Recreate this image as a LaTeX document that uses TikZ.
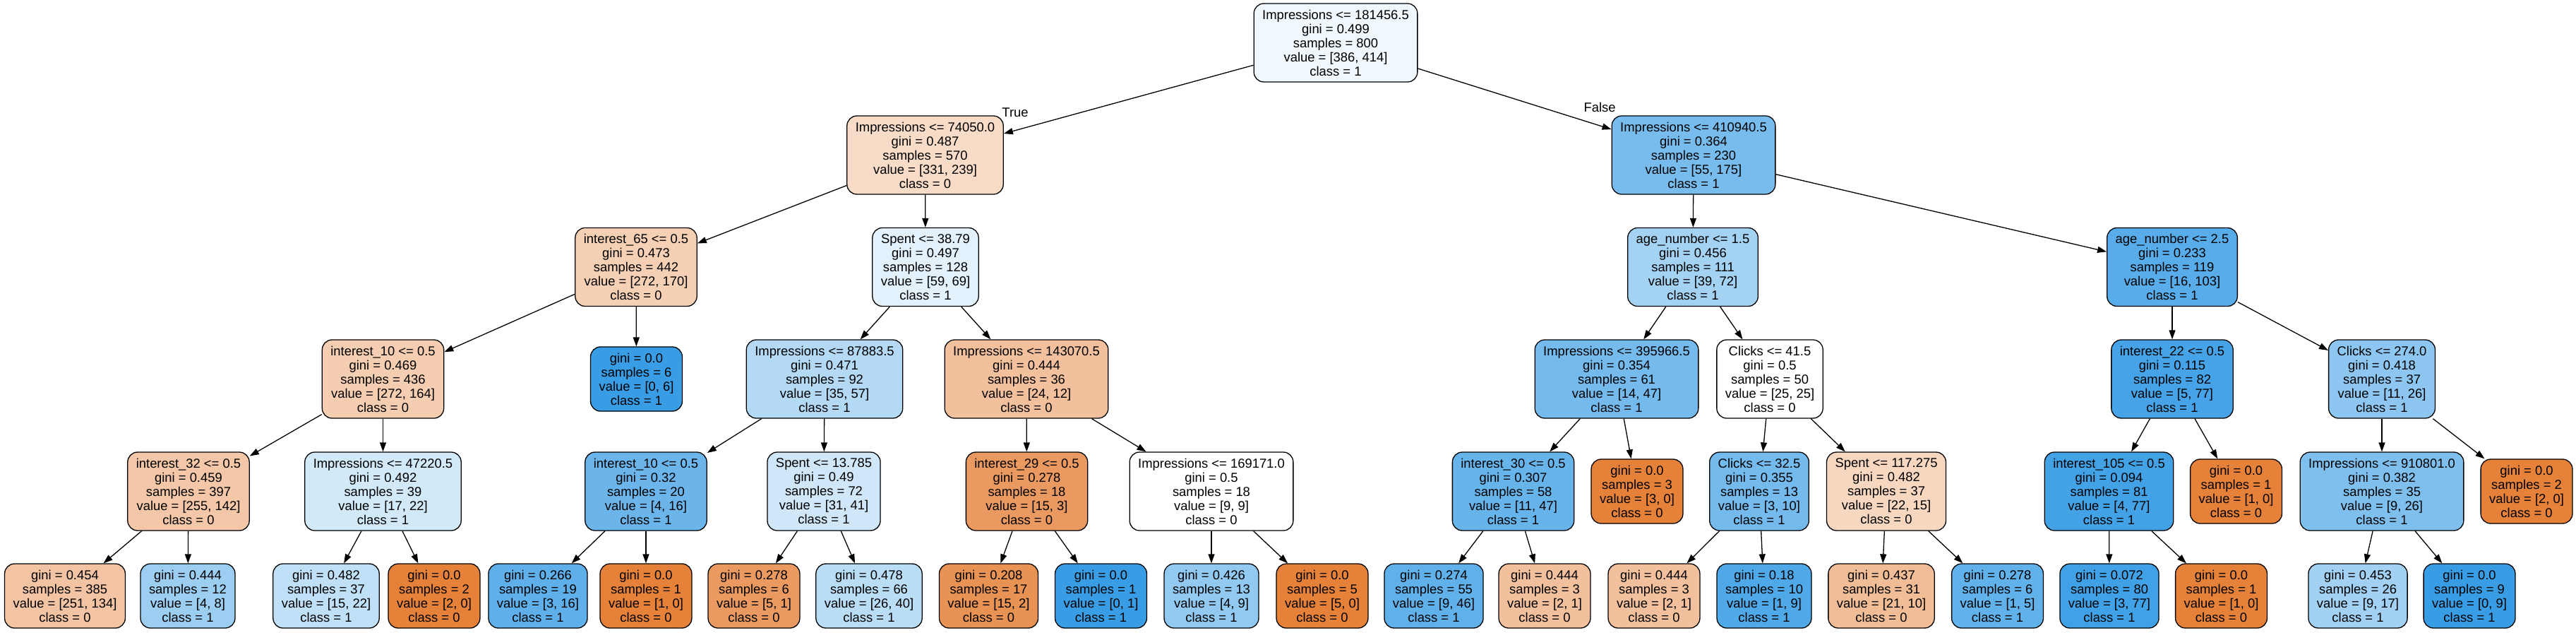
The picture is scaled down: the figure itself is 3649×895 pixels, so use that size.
\documentclass[tikz,border=0pt]{standalone}
\usepackage{fontspec}
\setmainfont{Liberation Sans}
\usetikzlibrary{arrows.meta}
\definecolor{czero}{RGB}{229,129,57}
\definecolor{cone}{RGB}{57,157,229}
\tikzset{
 tn/.style={draw=black, line width=0.65pt, rounded corners=7pt, align=center,
   font=\fontsize{9.2}{10}\selectfont, inner xsep=6pt, inner ysep=0pt},
 nf/.style={tn, minimum height=55.5pt},
 nl/.style={tn, minimum height=45.5pt},
 edge/.style={-{Triangle[length=6.5pt,width=4.5pt]}, line width=0.65pt},
 lbl/.style={font=\fontsize{9.2}{10}\selectfont, inner sep=0pt}
}
\begin{document}
\begin{tikzpicture}[x=0.5pt,y=-0.5pt]
\useasboundingbox[fill=white] (0,0) rectangle (3649,895);
% rank 0
\node[nf, fill=cone!7!white] (R) at (1892,60.5) {Impressions <= 181456.5\\gini = 0.499\\samples = 800\\value = [386, 414]\\class = 1};
% rank 1
\node[nf, fill=czero!28!white] (A) at (1310.5,219.5) {Impressions <= 74050.0\\gini = 0.487\\samples = 570\\value = [331, 239]\\class = 0};
\node[nf, fill=cone!68.6!white] (B) at (2399,219.5) {Impressions <= 410940.5\\gini = 0.364\\samples = 230\\value = [55, 175]\\class = 1};
% rank 2
\node[nf, fill=czero!37.5!white] (A1) at (901,378) {interest\_65 <= 0.5\\gini = 0.473\\samples = 442\\value = [272, 170]\\class = 0};
\node[nf, fill=cone!14.5!white] (A2) at (1311,378) {Spent <= 38.79\\gini = 0.497\\samples = 128\\value = [59, 69]\\class = 1};
\node[nf, fill=cone!45.8!white] (B1) at (2398,378) {age\_number <= 1.5\\gini = 0.456\\samples = 111\\value = [39, 72]\\class = 1};
\node[nf, fill=cone!84.5!white] (B2) at (3077,378) {age\_number <= 2.5\\gini = 0.233\\samples = 119\\value = [16, 103]\\class = 1};
% rank 3
\node[nf, fill=czero!39.7!white] (A11) at (542.5,536.5) {interest\_10 <= 0.5\\gini = 0.469\\samples = 436\\value = [272, 164]\\class = 0};
\node[nl, fill=cone] (A12) at (901.5,536.5) {gini = 0.0\\samples = 6\\value = [0, 6]\\class = 1};
\node[nf, fill=cone!38.6!white] (A21) at (1168,536.5) {Impressions <= 87883.5\\gini = 0.471\\samples = 92\\value = [35, 57]\\class = 1};
\node[nf, fill=czero!50!white] (A22) at (1454,536.5) {Impressions <= 143070.5\\gini = 0.444\\samples = 36\\value = [24, 12]\\class = 0};
\node[nf, fill=cone!70.2!white] (B11) at (2290,536.5) {Impressions <= 395966.5\\gini = 0.354\\samples = 61\\value = [14, 47]\\class = 1};
\node[nf, fill=white] (B12) at (2507,536.5) {Clicks <= 41.5\\gini = 0.5\\samples = 50\\value = [25, 25]\\class = 0};
\node[nf, fill=cone!93.5!white] (B21) at (3077,536.5) {interest\_22 <= 0.5\\gini = 0.115\\samples = 82\\value = [5, 77]\\class = 1};
\node[nf, fill=cone!57.7!white] (B22) at (3374,536.5) {Clicks <= 274.0\\gini = 0.418\\samples = 37\\value = [11, 26]\\class = 1};
% rank 4
\node[nf, fill=czero!44.3!white] (A111) at (267,695.5) {interest\_32 <= 0.5\\gini = 0.459\\samples = 397\\value = [255, 142]\\class = 0};
\node[nf, fill=cone!22.7!white] (A112) at (542.5,695.5) {Impressions <= 47220.5\\gini = 0.492\\samples = 39\\value = [17, 22]\\class = 1};
\node[nf, fill=cone!75!white] (A211) at (915,695.5) {interest\_10 <= 0.5\\gini = 0.32\\samples = 20\\value = [4, 16]\\class = 1};
\node[nf, fill=cone!24.4!white] (A212) at (1167,695.5) {Spent <= 13.785\\gini = 0.49\\samples = 72\\value = [31, 41]\\class = 1};
\node[nf, fill=czero!80!white] (A221) at (1454.5,695.5) {interest\_29 <= 0.5\\gini = 0.278\\samples = 18\\value = [15, 3]\\class = 0};
\node[nf, fill=white] (A222) at (1716,695.5) {Impressions <= 169171.0\\gini = 0.5\\samples = 18\\value = [9, 9]\\class = 0};
\node[nf, fill=cone!76.6!white] (B111) at (2143.5,695.5) {interest\_30 <= 0.5\\gini = 0.307\\samples = 58\\value = [11, 47]\\class = 1};
\node[nl, fill=czero] (B112) at (2319,695.5) {gini = 0.0\\samples = 3\\value = [3, 0]\\class = 0};
\node[nf, fill=cone!70!white] (B121) at (2492,695.5) {Clicks <= 32.5\\gini = 0.355\\samples = 13\\value = [3, 10]\\class = 1};
\node[nf, fill=czero!31.8!white] (B122) at (2672,695.5) {Spent <= 117.275\\gini = 0.482\\samples = 37\\value = [22, 15]\\class = 0};
\node[nf, fill=cone!94.8!white] (B211) at (2987.5,695.5) {interest\_105 <= 0.5\\gini = 0.094\\samples = 81\\value = [4, 77]\\class = 1};
\node[nl, fill=czero] (B212) at (3167.5,695.5) {gini = 0.0\\samples = 1\\value = [1, 0]\\class = 0};
\node[nf, fill=cone!65.4!white] (B221) at (3374,695.5) {Impressions <= 910801.0\\gini = 0.382\\samples = 35\\value = [9, 26]\\class = 1};
\node[nl, fill=czero] (B222) at (3579,695.5) {gini = 0.0\\samples = 2\\value = [2, 0]\\class = 0};
% rank 5
\node[nl, fill=czero!46.6!white] (L1) at (92,843.5) {gini = 0.454\\samples = 385\\value = [251, 134]\\class = 0};
\node[nl, fill=cone!50!white] (L2) at (266,843.5) {gini = 0.444\\samples = 12\\value = [4, 8]\\class = 1};
\node[nl, fill=cone!31.8!white] (L3) at (462,843.5) {gini = 0.482\\samples = 37\\value = [15, 22]\\class = 1};
\node[nl, fill=czero] (L4) at (615,843.5) {gini = 0.0\\samples = 2\\value = [2, 0]\\class = 0};
\node[nl, fill=cone!81.25!white] (L5) at (762,843.5) {gini = 0.266\\samples = 19\\value = [3, 16]\\class = 1};
\node[nl, fill=czero] (L6) at (915,843.5) {gini = 0.0\\samples = 1\\value = [1, 0]\\class = 0};
\node[nl, fill=czero!80!white] (L7) at (1068,843.5) {gini = 0.278\\samples = 6\\value = [5, 1]\\class = 0};
\node[nl, fill=cone!35!white] (L8) at (1231,843.5) {gini = 0.478\\samples = 66\\value = [26, 40]\\class = 1};
\node[nl, fill=czero!86.7!white] (L9) at (1400.5,843.5) {gini = 0.208\\samples = 17\\value = [15, 2]\\class = 0};
\node[nl, fill=cone] (L10) at (1559.5,843.5) {gini = 0.0\\samples = 1\\value = [0, 1]\\class = 1};
\node[nl, fill=cone!55.6!white] (L11) at (1716,843.5) {gini = 0.426\\samples = 13\\value = [4, 9]\\class = 1};
\node[nl, fill=czero] (L12) at (1873,843.5) {gini = 0.0\\samples = 5\\value = [5, 0]\\class = 0};
\node[nl, fill=cone!80.4!white] (M1) at (2031,843.5) {gini = 0.274\\samples = 55\\value = [9, 46]\\class = 1};
\node[nl, fill=czero!50!white] (M2) at (2188,843.5) {gini = 0.444\\samples = 3\\value = [2, 1]\\class = 0};
\node[nl, fill=czero!50!white] (M3) at (2343,843.5) {gini = 0.444\\samples = 3\\value = [2, 1]\\class = 0};
\node[nl, fill=cone!88.9!white] (M4) at (2499,843.5) {gini = 0.18\\samples = 10\\value = [1, 9]\\class = 1};
\node[nl, fill=czero!52.4!white] (M5) at (2665,843.5) {gini = 0.437\\samples = 31\\value = [21, 10]\\class = 0};
\node[nl, fill=cone!80!white] (M6) at (2829.5,843.5) {gini = 0.278\\samples = 6\\value = [1, 5]\\class = 1};
\node[nl, fill=cone!96.1!white] (M7) at (2988,843.5) {gini = 0.072\\samples = 80\\value = [3, 77]\\class = 1};
\node[nl, fill=czero] (M8) at (3146.5,843.5) {gini = 0.0\\samples = 1\\value = [1, 0]\\class = 0};
\node[nl, fill=cone!47.1!white] (M9) at (3340,843.5) {gini = 0.453\\samples = 26\\value = [9, 17]\\class = 1};
\node[nl, fill=cone] (M10) at (3498,843.5) {gini = 0.0\\samples = 9\\value = [0, 9]\\class = 1};
% edge labels
\node[lbl] (tT) at (1438,159) {True};
\node[lbl] (tF) at (2266,152) {False};
% edges
\foreach \p/\c in {R/A,R/B,A/A1,A/A2,B/B1,B/B2,
  A1/A11,A1/A12,A2/A21,A2/A22,B1/B11,B1/B12,B2/B21,B2/B22,
  A11/A111,A11/A112,A21/A211,A21/A212,A22/A221,A22/A222,
  B11/B111,B11/B112,B12/B121,B12/B122,B21/B211,B21/B212,B22/B221,B22/B222,
  A111/L1,A111/L2,A112/L3,A112/L4,A211/L5,A211/L6,A212/L7,A212/L8,
  A221/L9,A221/L10,A222/L11,A222/L12,B111/M1,B111/M2,B121/M3,B121/M4,
  B122/M5,B122/M6,B211/M7,B211/M8,B221/M9,B221/M10}
  \draw[edge] (\p) -- (\c);
\end{tikzpicture}
\end{document}
